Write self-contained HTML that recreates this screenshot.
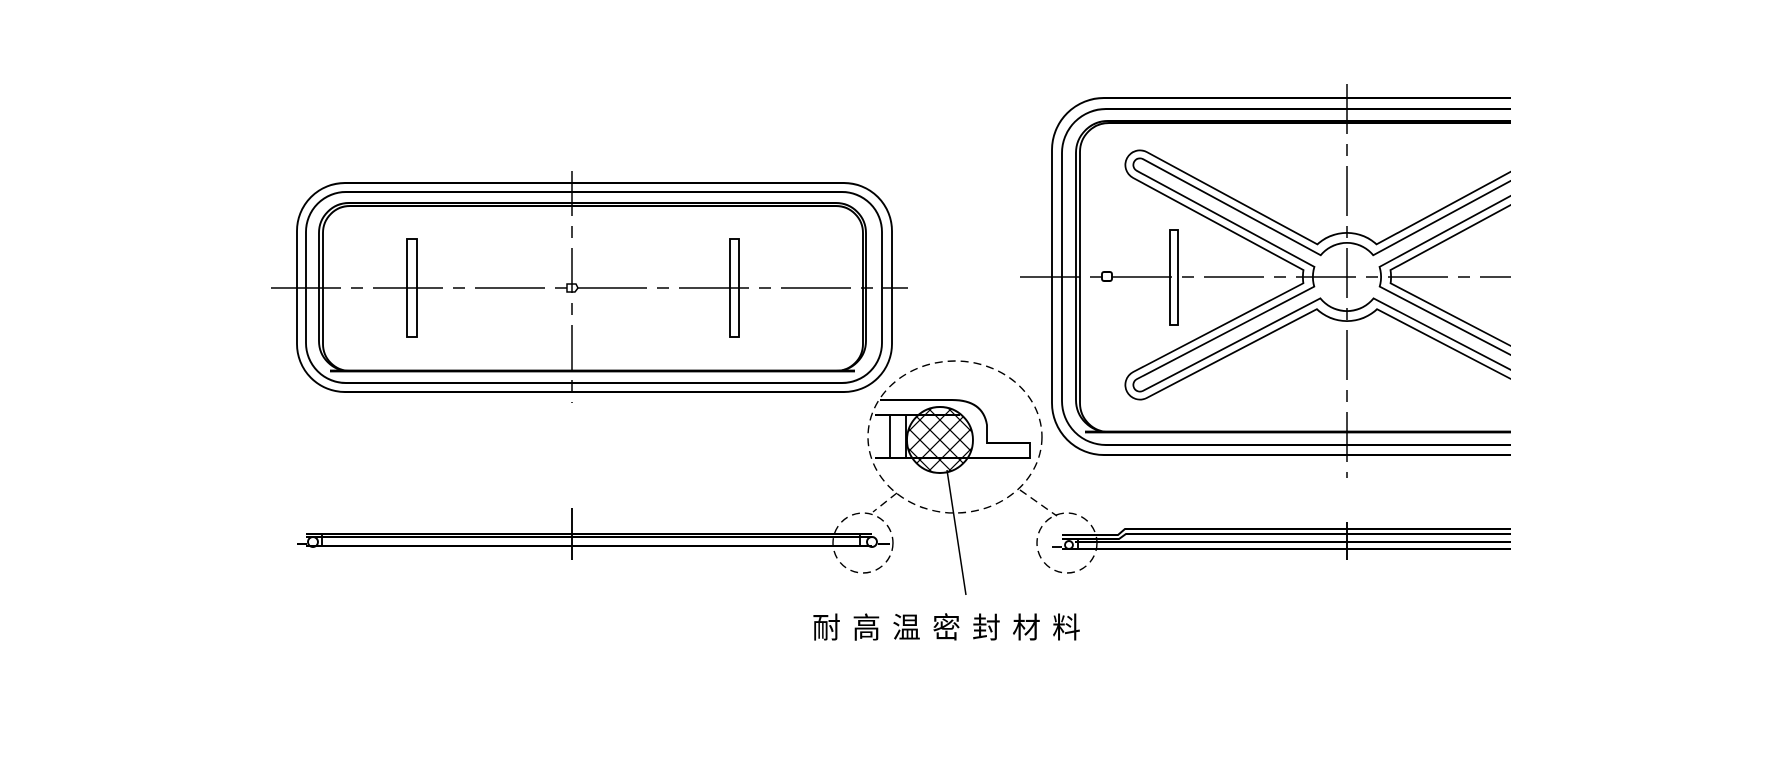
<!DOCTYPE html>
<html><head><meta charset="utf-8"><style>
html,body{margin:0;padding:0;background:#fff;}
svg{display:block;}
text{font-family:"Liberation Sans","Noto Sans CJK SC",sans-serif;}
</style></head><body>
<svg width="1772" height="775" viewBox="0 0 1772 775" xmlns="http://www.w3.org/2000/svg">
<defs><clipPath id="cr"><rect x="0" y="0" width="1511" height="775"/></clipPath></defs>
<rect width="1772" height="775" fill="#fff"/>
<g fill="none" stroke="#000" stroke-width="1.9">
<!-- LEFT PLAN -->
<rect x="297" y="183" width="595" height="209" rx="48"/>
<rect x="306" y="192" width="576" height="191" rx="40"/>
<rect x="319" y="203" width="547" height="168" rx="30"/>
<rect x="323" y="206" width="540" height="165" rx="27"/>
<line x1="330" y1="371" x2="855" y2="371" stroke-width="2.8"/>
<rect x="407" y="239" width="10" height="98"/>
<rect x="730" y="239" width="9" height="98"/>
<line x1="271" y1="288" x2="908" y2="288" stroke-dasharray="70,10,12,10" stroke-width="1.5"/>
<line x1="572" y1="171" x2="572" y2="403" stroke-dasharray="45,10,12,10" stroke-width="1.5"/>
<path d="M567 284h9l2 4-3 4h-8z" stroke-width="1.5"/>
<!-- LEFT SIDE VIEW -->
<line x1="306" y1="534" x2="872" y2="534"/>
<line x1="306" y1="537" x2="872" y2="537"/>
<line x1="306" y1="546" x2="872" y2="546"/>
<line x1="322" y1="534" x2="322" y2="546"/>
<line x1="860" y1="534" x2="860" y2="546"/>
<circle cx="313" cy="542" r="5"/>
<circle cx="872" cy="542" r="5"/>
<path d="M297 544h10M878 544h12"/>
<line x1="572" y1="508" x2="572" y2="560"/>
<g stroke-dasharray="8,5" stroke-width="1.4">
<circle cx="863" cy="543" r="30"/>
<circle cx="1067" cy="543" r="30"/>
<ellipse cx="955" cy="437" rx="87" ry="76"/>
<line x1="897" y1="493" x2="873" y2="512"/>
<line x1="1020" y1="490" x2="1057" y2="516"/>
</g>
<path d="M880 400H952Q983 400 987 425V443H1030V458H875"/>
<line x1="875" y1="415" x2="960" y2="415"/>
<line x1="890" y1="415" x2="890" y2="458"/>
<line x1="906" y1="415" x2="906" y2="458"/>
<circle cx="940" cy="440" r="33"/>
<g stroke-width="1.2">
<clipPath id="hc"><circle cx="940" cy="440" r="33"/></clipPath>
<g clip-path="url(#hc)">
<path d="M900 420l60 60M900 400l80 80M910 390l70 70M925 385l60 60M900 440l40 40M895 455l25 25"/>
<path d="M900 460l60-60M900 480l80-80M920 480l60-60M940 480l45-45M900 440l45-45M900 420l30-30"/>
</g></g>
<line x1="947" y1="470" x2="966" y2="595" stroke-width="1.5"/>
<!-- RIGHT PLAN -->
<g clip-path="url(#cr)">
<rect x="1052" y="98" width="700" height="357" rx="52"/>
<rect x="1062" y="109" width="680" height="336" rx="44"/>
<rect x="1076" y="121" width="660" height="311" rx="32"/>
<rect x="1080" y="123" width="650" height="309" rx="29"/>
<line x1="1085" y1="432" x2="1511" y2="432" stroke-width="2.8"/>
<g stroke-linecap="round">
<g stroke="#000"><path d="M1140 165L1347 277L1140 385M1554 165L1347 277L1554 385" stroke-width="31"/><circle cx="1347" cy="277" r="45" fill="#000" stroke="none"/></g>
<g stroke="#fff"><path d="M1140 165L1347 277L1140 385M1554 165L1347 277L1554 385" stroke-width="27.5"/><circle cx="1347" cy="277" r="43.2" fill="#fff" stroke="none"/></g>
<g stroke="#000"><path d="M1140 165L1347 277L1140 385M1554 165L1347 277L1554 385" stroke-width="15"/><circle cx="1347" cy="277" r="35" fill="#000" stroke="none"/></g>
<g stroke="#fff"><path d="M1140 165L1347 277L1140 385M1554 165L1347 277L1554 385" stroke-width="11.5"/><circle cx="1347" cy="277" r="33.2" fill="#fff" stroke="none"/></g>
</g>
<line x1="1020" y1="277" x2="1511" y2="277" stroke-dasharray="60,10,12,10" stroke-width="1.5"/>
<line x1="1347" y1="84" x2="1347" y2="478" stroke-dasharray="50,10,12,10" stroke-width="1.5"/>
<rect x="1102" y="272" width="10" height="9" rx="2"/>
<rect x="1170" y="230" width="8" height="95"/>
<path d="M1511 529H1125L1118 535H1062"/>
<path d="M1511 534H1126L1119 539H1062"/>
<line x1="1075" y1="542" x2="1511" y2="542"/>
<line x1="1062" y1="549" x2="1511" y2="549"/>
<line x1="1078" y1="539" x2="1078" y2="549"/>
<circle cx="1069" cy="545" r="4"/>
<line x1="1052" y1="547" x2="1062" y2="547"/>
<line x1="1347" y1="522" x2="1347" y2="560"/>
</g>
</g>
<text x="812" y="638" font-size="29" letter-spacing="11" fill="#000">耐高温密封材料</text>
</svg>
</body></html>
